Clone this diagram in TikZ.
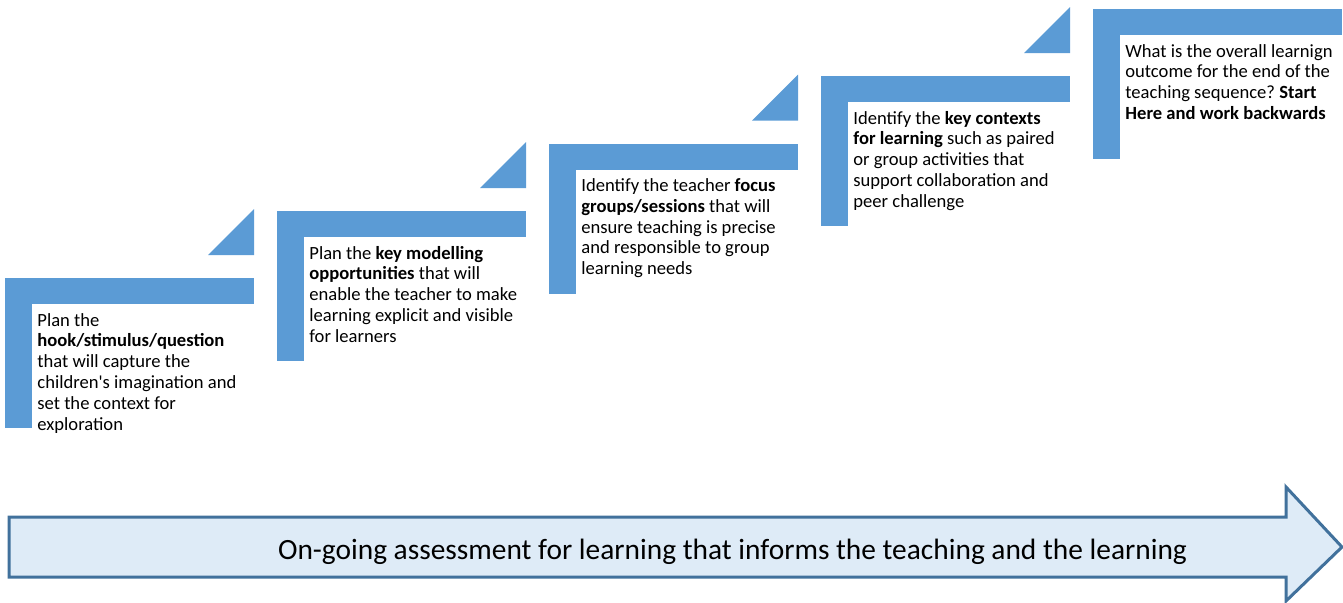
\documentclass[tikz,border=0pt]{standalone}
\usepackage{fontspec}
\setmainfont{Carlito}
\usetikzlibrary{positioning}
\definecolor{stepblue}{RGB}{91,155,213}
\definecolor{bandfill}{RGB}{222,235,247}
\definecolor{bandline}{RGB}{65,113,156}
\newcommand{\steplines}[1]{\begin{tabular}[t]{@{}l@{}}#1\end{tabular}}
\frenchspacing

\begin{document}
\begin{tikzpicture}[x=0.5pt, y=-0.5pt,
    stepbar/.style={fill=stepblue, draw=none},
    steptext/.style={anchor=base west, inner sep=0pt,
                     font=\fontsize{9.3}{10.4}\selectfont},
    band/.style={fill=bandfill, draw=bandline, line width=1.5pt, line join=miter},
    bandtext/.style={anchor=base, inner sep=0pt, font=\fontsize{14.7}{17}\selectfont}
]
    \useasboundingbox (0,0) rectangle (1343,602);

    % the five steps: left and top edge of each bracket
    \foreach \sx/\sy [count=\i] in {5/278, 277/211, 549/143.5, 821/76, 1093/9} {
        \fill[stepbar] (\sx,\sy) rectangle ++(249,26);
        \fill[stepbar] (\sx,\sy) rectangle ++(27,150);
        \ifnum\i<5
            \fill[stepbar] (\sx+249,\sy-69) -- ++(0,46) -- ++(-46,0) -- cycle;
        \fi
    }

    \node[steptext] (hook) at (37,326)
        {\steplines{Plan the\\\textbf{hook/stimulus/question}\\that will capture the\\children\textquotesingle s imagination and\\set the context for\\exploration}};
    \node[steptext] (model) at (309,259)
        {\steplines{Plan the \textbf{key modelling}\\\textbf{opportunities} that will\\enable the teacher to make\\learning explicit and visible\\for learners}};
    \node[steptext] (focus) at (581,191.5)
        {\steplines{Identify the teacher \textbf{focus}\\\textbf{groups/sessions} that will\\ensure teaching is precise\\and responsible to group\\learning needs}};
    \node[steptext] (context) at (853,124)
        {\steplines{Identify the \textbf{key contexts}\\\textbf{for learning} such as paired\\or group activities that\\support collaboration and\\peer challenge}};
    \node[steptext] (outcome) at (1125,57)
        {\steplines{What is the overall learnign\\outcome for the end of the\\teaching sequence? \textbf{Start}\\\textbf{Here and work backwards}}};

    % assessment arrow
    \draw[band] (9,517) -- (1286,517) -- (1286,487) -- (1342,547)
        -- (1286,601) -- (1286,577) -- (9,577) -- cycle;
    \node[bandtext] (assess) at (732.5,559)
        {On-going assessment for learning that informs the teaching and the learning};
\end{tikzpicture}
\end{document}
